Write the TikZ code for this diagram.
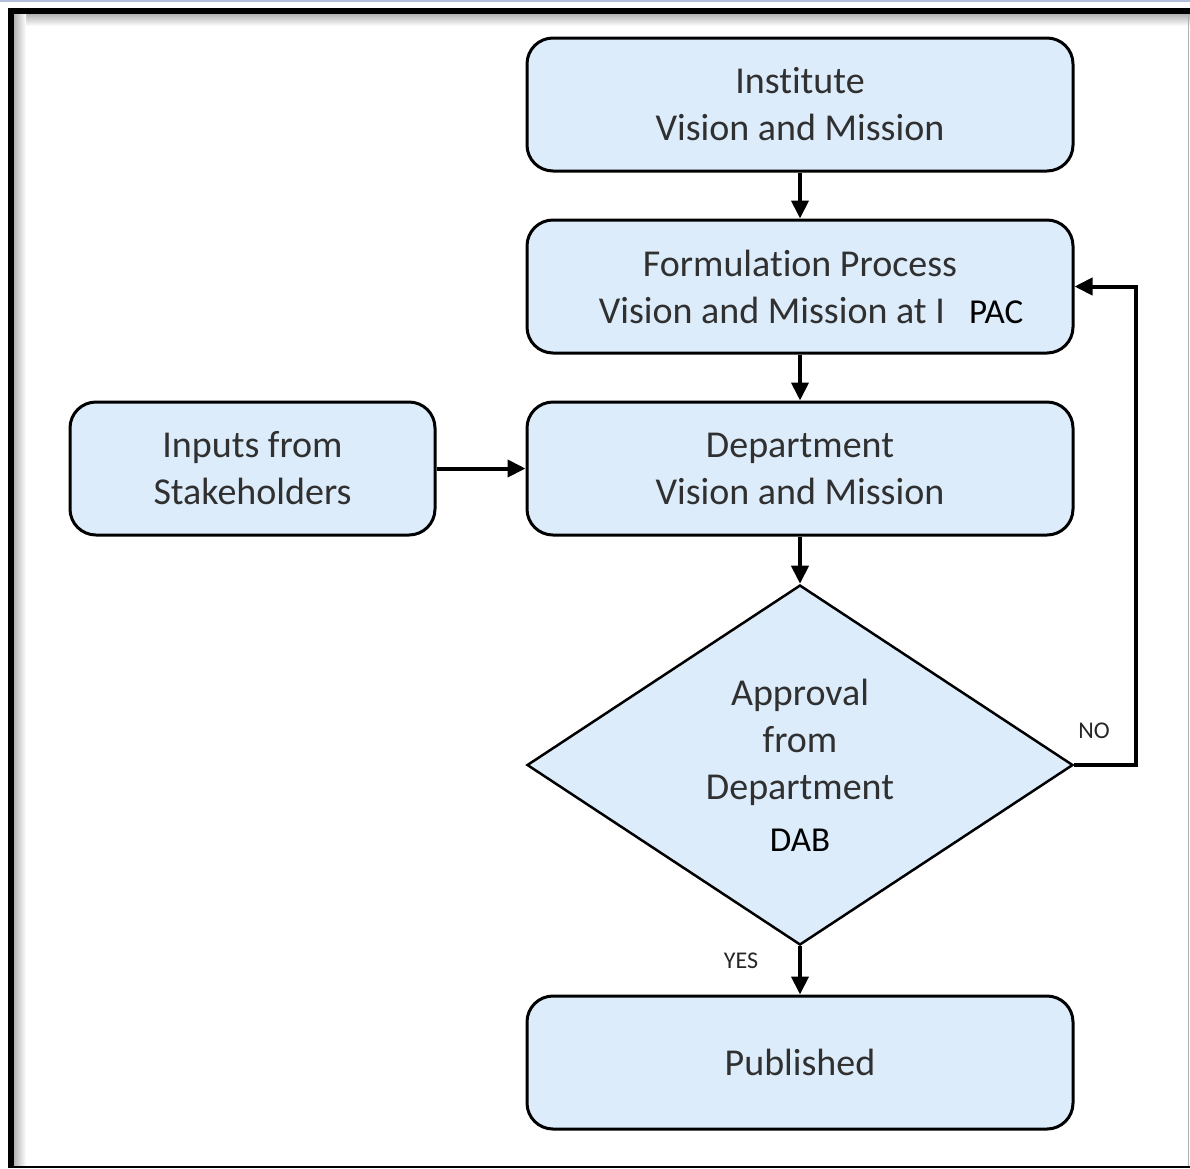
\documentclass[tikz,border=0pt]{standalone}
\usepackage{fontspec}
\setmainfont[Ligatures=NoCommon]{Carlito}
\usetikzlibrary{arrows.meta,shapes.geometric}

\definecolor{boxfill}{HTML}{DCECFB}
\definecolor{txtgray}{HTML}{303030}
\definecolor{stripe}{HTML}{B2BEDA}

\tikzset{
  stepbox/.style={draw=black, line width=3pt, fill=boxfill, rounded corners=26pt,
    minimum width=546pt, minimum height=133pt, align=center, inner sep=0pt,
    text=txtgray, font=\fontsize{38}{47}\selectfont},
  decision/.style={draw=black, line width=2.5pt, fill=boxfill, shape=diamond,
    aspect=1.52, minimum width=546pt, minimum height=360pt, align=center,
    inner sep=0pt, text=txtgray, font=\fontsize{38}{47}\selectfont},
  flow/.style={line width=4pt, -{Triangle[length=18pt,width=17pt]}},
  smalllabel/.style={text=black!85, font=\fontsize{24}{28}\selectfont, inner sep=0pt},
}

\begin{document}
\begin{tikzpicture}[x=1pt,y=-1pt]
\useasboundingbox (0,0) rectangle (1190,1168);
\fill[white] (0,0) rectangle (1190,1168);

% page frame with inner shadow
\fill[stripe] (0,0) rectangle (1190,2);
\shade[top color=black!30, bottom color=white] (14,14) rectangle (1190,26);
\shade[left color=black!30, right color=white] (14,14) rectangle (26,1166);
\fill[black] (8,8) rectangle (1190,14);
\fill[black] (8,8) rectangle (14,1168);
\fill[black] (14,1165.5) rectangle (1190,1168);
\draw[black!30, line width=1.5pt] (1188.5,14) -- (1188.5,1166);

% process steps
\node[stepbox] (inst) at (800,104.5) {Institute\\Vision and Mission};
\node[stepbox] (form) at (800,286.5)
  {Formulation Process\\\hspace*{22pt}Vision and Mission at I\hspace{24pt}{\color{black}\fontsize{35}{47}\selectfont PAC}};
\node[stepbox] (dept) at (800,468.5) {Department\\Vision and Mission};
\node[stepbox, minimum width=365pt] (inputs) at (252.5,468.5) {Inputs from\\Stakeholders};
\node[decision] (appr) at (800,765) {Approval\\from\\Department\\[5pt]{\color{black}\fontsize{35}{47}\selectfont DAB}};
\node[stepbox] (pub) at (800,1062.5) {Published};

% connectors
\draw[flow] (inst) -- (form);
\draw[flow] (form) -- (dept);
\draw[flow] (inputs) -- (dept);
\draw[flow] (dept) -- (appr);
\draw[flow] (appr) -- (pub);
\coordinate (loop) at (1136,765);
\draw[flow, line join=miter] (appr.east) -- (loop) |- (form.east);

% branch labels
\node[smalllabel] (nolab) at (1094,731) {NO};
\node[smalllabel] (yeslab) at (741,961) {YES};
\end{tikzpicture}
\end{document}
